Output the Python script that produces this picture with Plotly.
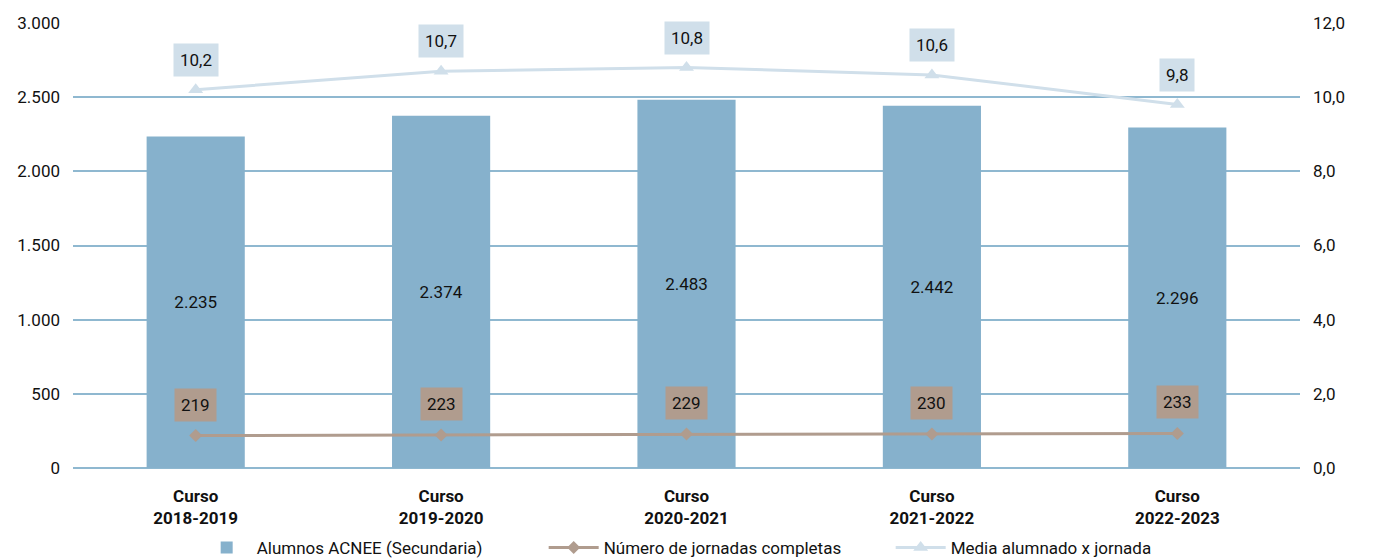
import plotly.graph_objects as go

categories = ["Curso<br>2018-2019", "Curso<br>2019-2020", "Curso<br>2020-2021", "Curso<br>2021-2022", "Curso<br>2022-2023"]
alumnos = [2235, 2374, 2483, 2442, 2296]
jornadas = [219, 223, 229, 230, 233]
media = [10.2, 10.7, 10.8, 10.6, 9.8]

FONT = "Roboto, Liberation Sans Narrow, DejaVu Sans Condensed, sans-serif"
BAR_C = "#86b1cc"
JOR_C = "#b09c8e"
MED_C = "#d0dfea"
GRID_C = "#8fb8d0"

def miles(v):
    return f"{v:,}".replace(",", ".")

fig = go.Figure()
fig.add_trace(go.Bar(
    x=categories, y=alumnos, name="Alumnos ACNEE (Secundaria)",
    marker=dict(color=BAR_C, line=dict(width=0)), width=0.4,
    text=[miles(v) for v in alumnos], textposition="inside", insidetextanchor="middle",
    textfont=dict(family=FONT, size=17, color="#111111"), hoverinfo="skip",
))
fig.add_trace(go.Scatter(
    x=categories, y=jornadas, name="Número de jornadas completas", mode="lines+markers",
    line=dict(color=JOR_C, width=3), marker=dict(symbol="diamond", size=10, color=JOR_C),
))
fig.add_trace(go.Scatter(
    x=categories, y=media, name="Media alumnado x jornada", mode="lines+markers", yaxis="y2",
    line=dict(color=MED_C, width=3), marker=dict(symbol="triangle-up", size=13, color=MED_C),
))

for c, v in zip(categories, jornadas):
    fig.add_annotation(x=c, y=v, yref="y", text=str(v), showarrow=False, yshift=31,
                       bgcolor=JOR_C, borderpad=6, font=dict(family=FONT, size=17, color="#111111"))
for c, v in zip(categories, media):
    fig.add_annotation(x=c, y=v, yref="y2", text=f"{v:.1f}".replace(".", ","), showarrow=False, yshift=30,
                       bgcolor=MED_C, borderpad=6, font=dict(family=FONT, size=17, color="#111111"))

fig.update_layout(
    width=1365, height=551,
    margin=dict(l=65, r=73, t=15, b=91, autoexpand=False),
    paper_bgcolor="white", plot_bgcolor="white",
    separators=",.",
    font=dict(family=FONT, size=17, color="#111111"),
    bargap=0.6,
    showlegend=True,
    legend=dict(orientation="h", x=0.525, xanchor="center", y=0.02, yanchor="middle", yref="container",
                font=dict(family=FONT, size=17, color="#111111"), itemwidth=50,
                entrywidth=282, traceorder="normal"),
    xaxis=dict(showgrid=False, showline=False, ticks="",
               tickfont=dict(family=FONT, size=17, weight="bold"),
               automargin=False, ticklabelstandoff=16),
    yaxis=dict(range=[0, 3000], dtick=500, tickformat=",.0f", showgrid=True, gridcolor=GRID_C,
               gridwidth=2, zeroline=True, zerolinecolor=GRID_C, zerolinewidth=2, showline=False,
               ticks="", ticklabelstandoff=12, automargin=False),
    yaxis2=dict(range=[0, 12], dtick=2, tickformat=".1f", overlaying="y", side="right",
                showgrid=False, zeroline=False, showline=False, ticks="", ticklabelstandoff=12,
                automargin=False),
)

fig.write_html("out.html")
